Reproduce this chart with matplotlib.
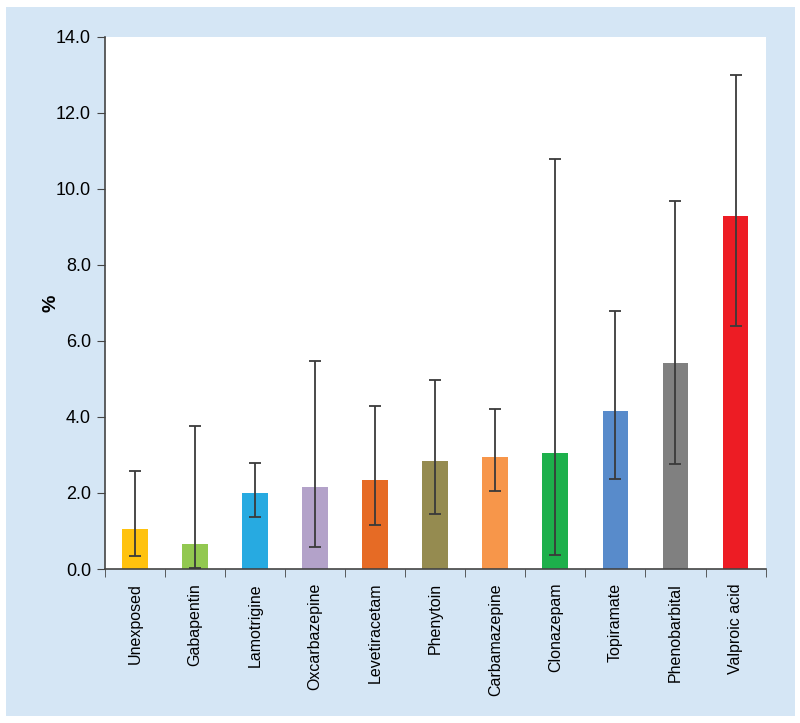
import matplotlib.pyplot as plt
from matplotlib.patches import Rectangle

plt.rcParams["font.family"] = ["Liberation Sans", "DejaVu Sans"]

drugs = ["Unexposed", "Gabapentin", "Lamotrigine", "Oxcarbazepine", "Levetiracetam",
         "Phenytoin", "Carbamazepine", "Clonazepam", "Topiramate", "Phenobarbital",
         "Valproic acid"]
pct = [1.05, 0.66, 2.0, 2.16, 2.34, 2.84, 2.95, 3.05, 4.16, 5.42, 9.29]
ci_low = [0.34, 0.02, 1.37, 0.58, 1.16, 1.45, 2.05, 0.37, 2.37, 2.76, 6.39]
ci_high = [2.58, 3.76, 2.79, 5.47, 4.29, 4.97, 4.2, 10.79, 6.79, 9.68, 13.0]
colors = ["#FFC20E", "#92C850", "#27AAE1", "#B3A2C9", "#E66B25", "#958B50",
          "#F7964A", "#1DB04B", "#588BCB", "#808080", "#ED1C24"]
yticks = [0, 2, 4, 6, 8, 10, 12, 14]

fig = plt.figure(figsize=(8, 7.23), dpi=100, facecolor="white")
# light blue panel behind the chart
fig.patches.append(Rectangle((6 / 800, 7 / 723), 789 / 800, 709 / 723,
                             transform=fig.transFigure, facecolor="#D5E6F5",
                             edgecolor="none", zorder=-1))

ax = fig.add_axes([0.131, 0.213, 0.826, 0.736])
ax.set_zorder(1)
ax.set_facecolor("white")

x = range(len(drugs))
err = [[p - lo for p, lo in zip(pct, ci_low)], [hi - p for p, hi in zip(pct, ci_high)]]
ax.bar(x, pct, width=0.43, color=colors, zorder=2)
ax.errorbar(x, pct, yerr=err, fmt="none", ecolor="#3a3a3a", elinewidth=1.3,
            capsize=4, capthick=1.3, zorder=3)

ax.set_xlim(-0.5, len(drugs) - 0.5)
ax.set_ylim(0, 14)
ax.set_yticks(yticks)
ax.set_yticklabels([f"{v:.1f}" for v in yticks], fontsize=13)
ax.set_xticks(list(x))
ax.set_xticklabels(drugs, rotation=90, fontsize=11.5)
ax.tick_params(axis="x", length=0, pad=10)
ax.set_xticks([i - 0.5 for i in range(len(drugs) + 1)], minor=True)
ax.tick_params(axis="x", which="minor", length=6, direction="out", color="#444444")
ax.tick_params(axis="y", length=6, direction="out", color="#444444", pad=4)

for side in ["top", "right"]:
    ax.spines[side].set_visible(False)
for side in ["left", "bottom"]:
    ax.spines[side].set_color("#444444")
    ax.spines[side].set_linewidth(1.2)

ax.set_ylabel("%", fontsize=14, fontweight="bold", labelpad=-3)

fig.savefig("out.png", dpi=100, facecolor=fig.get_facecolor())
